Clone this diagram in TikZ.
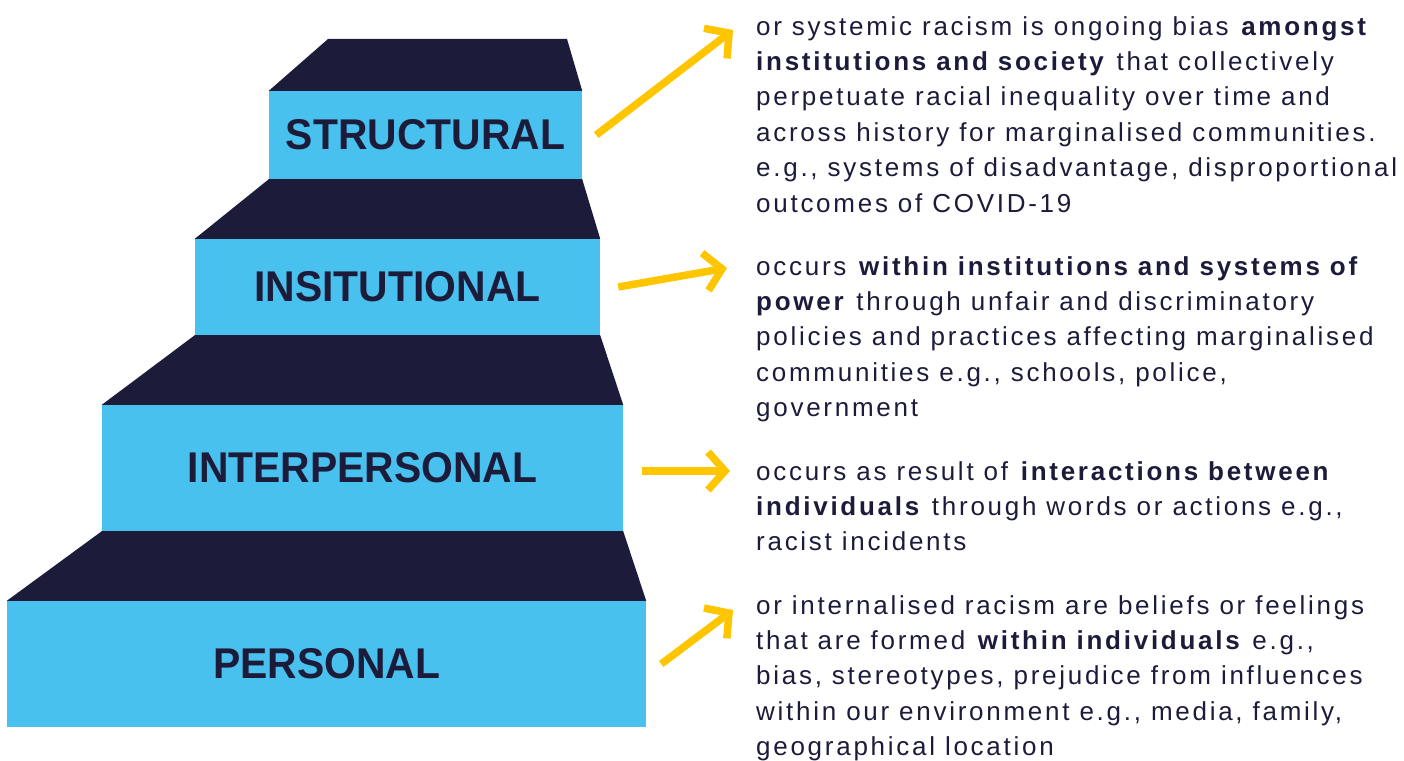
\documentclass[tikz,border=0pt]{standalone}
\usepackage{fontspec}
\usepackage{xcolor}
\setmainfont{Liberation Sans}
\newfontfamily\stepfont[FakeStretch=0.95]{Liberation Sans}
\newfontfamily\bodyfont[LetterSpace=10.5]{Liberation Sans}
\usetikzlibrary{arrows.meta}

\definecolor{stepblue}{HTML}{48C1EE}
\definecolor{stepnavy}{HTML}{1C1B3A}
\definecolor{arrowyellow}{HTML}{FFC600}

\tikzset{
  stepbox/.style={fill=stepblue, inner sep=0pt, text=stepnavy,
    font=\stepfont\bfseries\fontsize{43}{43}\selectfont},
  riser/.style={fill=stepnavy},
  note/.style={anchor=north west, inner sep=0pt, align=left, text=stepnavy,
    font=\bodyfont\fontsize{26}{35.4}\selectfont},
  pointer/.style={draw=arrowyellow, line width=7.5pt,
    -{Straight Barb[length=17pt,width=38pt]}},
}

\begin{document}
\begin{tikzpicture}[x=1pt,y=-1pt]
  \useasboundingbox (0,0) rectangle (1404,760);

  % the four steps, top to bottom
  \node[stepbox, minimum width=313pt, minimum height=88pt] (struct) at (425.5,135) {STRUCTURAL};
  \node[stepbox, minimum width=405pt, minimum height=96pt] (inst) at (397.5,287) {INSITUTIONAL};
  \node[stepbox, minimum width=521pt, minimum height=126pt] (inter) at (362.5,468) {INTERPERSONAL};
  \node[stepbox, minimum width=639pt, minimum height=126pt] (pers) at (326.5,664) {PERSONAL};

  % dark treads between the steps
  \coordinate (cap-l) at (328,39);
  \coordinate (cap-r) at (567,39);
  \fill[riser] (cap-l) -- (cap-r) -- (struct.north east) -- (struct.north west) -- cycle;
  \fill[riser] (struct.south west) -- (struct.south east) -- (inst.north east) -- (inst.north west) -- cycle;
  \fill[riser] (inst.south west) -- (inst.south east) -- (inter.north east) -- (inter.north west) -- cycle;
  \fill[riser] (inter.south west) -- (inter.south east) -- (pers.north east) -- (pers.north west) -- cycle;

  % descriptions
  \node[note] (struct-txt) at (756,10.2) {\strut or systemic racism is ongoing bias \textbf{amongst}\\
    \textbf{institutions and society} that collectively\\
    perpetuate racial inequality over time and\\
    across history for marginalised communities.\\
    e.g., systems of disadvantage, disproportional\\
    outcomes of COVID-19};
  \node[note] (inst-txt) at (756,250.2) {\strut occurs \textbf{within institutions and systems of}\\
    \textbf{power} through unfair and discriminatory\\
    policies and practices affecting marginalised\\
    communities e.g., schools, police,\\
    government};
  \node[note] (inter-txt) at (756,455.2) {\strut occurs as result of \textbf{interactions between}\\
    \textbf{individuals} through words or actions e.g.,\\
    racist incidents};
  \node[note] (pers-txt) at (756,589.2) {\strut or internalised racism are beliefs or feelings\\
    that are formed \textbf{within individuals} e.g.,\\
    bias, stereotypes, prejudice from influences\\
    within our environment e.g., media, family,\\
    geographical location};

  % pointers
  \coordinate (tip1) at (733,30);
  \coordinate (tip2) at (727,268);
  \coordinate (tip3) at (730,471);
  \coordinate (tip4) at (733,610);
  \draw[pointer] ([xshift=14pt]struct.east) -- (tip1);
  \draw[pointer] ([xshift=18pt]inst.east) -- (tip2);
  \draw[pointer] ([xshift=19pt,yshift=-3pt]inter.east) -- (tip3);
  \draw[pointer] ([xshift=15pt]pers.east) -- (tip4);
\end{tikzpicture}
\end{document}
